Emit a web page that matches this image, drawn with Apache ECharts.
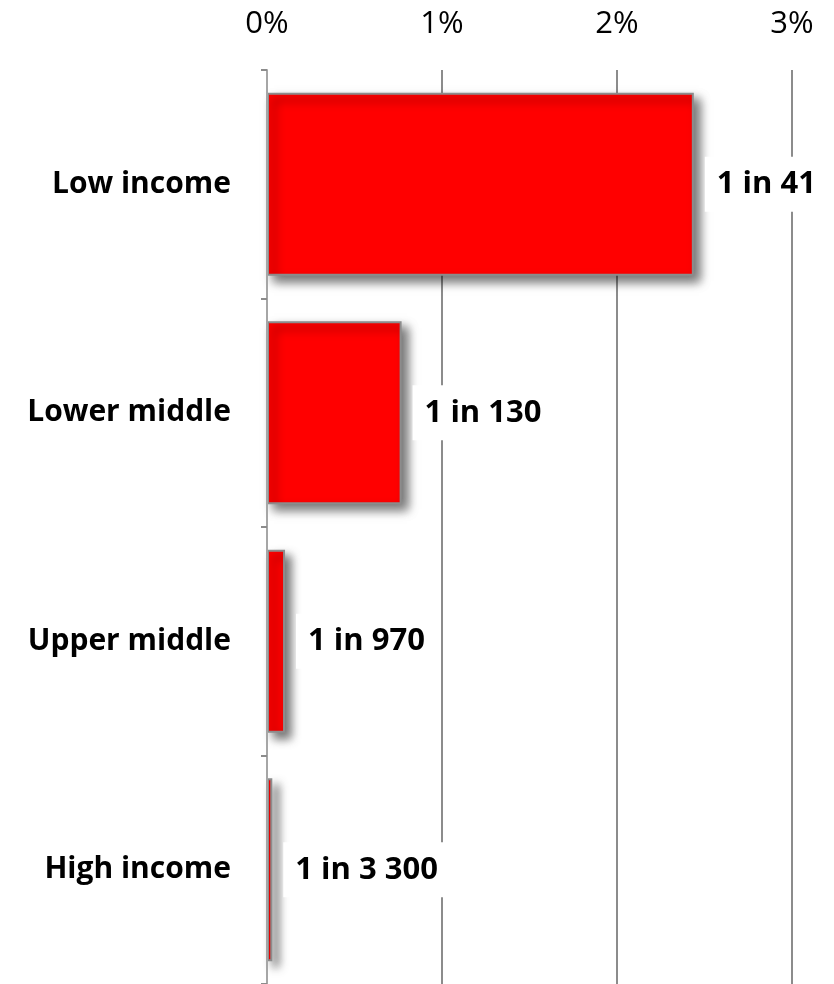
<!DOCTYPE html>
<html>
<head>
<meta charset="utf-8">
<title>Risk by income group</title>
<script src="https://cdn.jsdelivr.net/npm/echarts@6/dist/echarts.min.js"></script>
<style>
  html, body { margin: 0; padding: 0; background: #ffffff; }
  #chart { width: 834px; height: 984px; }
</style>
</head>
<body>
<div id="chart"></div>
<script>
// Income groups, top to bottom
const categories = ['Low income', 'Lower middle', 'Upper middle', 'High income'];
// Risk expressed as "1 in N"
const oneInN = [41, 130, 970, 3300];
const riskLabels = ['1 in 41', '1 in 130', '1 in 970', '1 in 3 300'];
// Axis ticks (percent)
const axisTicks = [0, 1, 2, 3];

// Bar lengths in percent, taken from the same "1 in N" figures
const riskPercent = oneInN.map(n => 100 / n);

const chart = echarts.init(document.getElementById('chart'), null, { renderer: 'canvas' });

const font = '"Open Sans", "Liberation Sans", sans-serif';

chart.setOption({
  animation: false,
  backgroundColor: '#ffffff',
  grid: { left: 267, right: 42, top: 70, bottom: 0, containLabel: false },
  xAxis: {
    type: 'value',
    position: 'top',
    min: axisTicks[0],
    max: axisTicks[axisTicks.length - 1],
    interval: 1,
    axisLine: { show: false },
    axisTick: { show: false },
    axisLabel: {
      formatter: '{value}%',
      color: '#000000',
      fontFamily: font,
      fontSize: 31,
      margin: 30
    },
    splitLine: { show: true, lineStyle: { color: '#8c8c8c', width: 2 } }
  },
  yAxis: {
    type: 'category',
    inverse: true,
    data: categories,
    axisLine: { show: true, lineStyle: { color: '#a6a6a6', width: 2 } },
    axisTick: { show: true, length: 6, lineStyle: { color: '#8c8c8c', width: 2 } },
    axisLabel: {
      color: '#000000',
      fontFamily: font,
      fontWeight: 'bold',
      fontSize: 30,
      margin: 36,
      padding: [6, 0, 0, 0]
    },
    z: 3
  },
  series: [{
    type: 'bar',
    data: riskPercent,
    barCategoryGap: '20%',
    itemStyle: {
      color: '#ff0000',
      borderColor: '#8c8c8c',
      borderWidth: 2,
      shadowColor: 'rgba(0,0,0,0.55)',
      shadowBlur: 10,
      shadowOffsetX: 6,
      shadowOffsetY: 6
    },
    label: {
      show: true,
      position: 'right',
      distance: 11,
      formatter: p => riskLabels[p.dataIndex],
      color: '#000000',
      fontFamily: font,
      fontWeight: 'bold',
      fontSize: 31,
      backgroundColor: '#ffffff',
      padding: [13, 12, 11, 12]
    }
  }]
});
</script>
</body>
</html>
